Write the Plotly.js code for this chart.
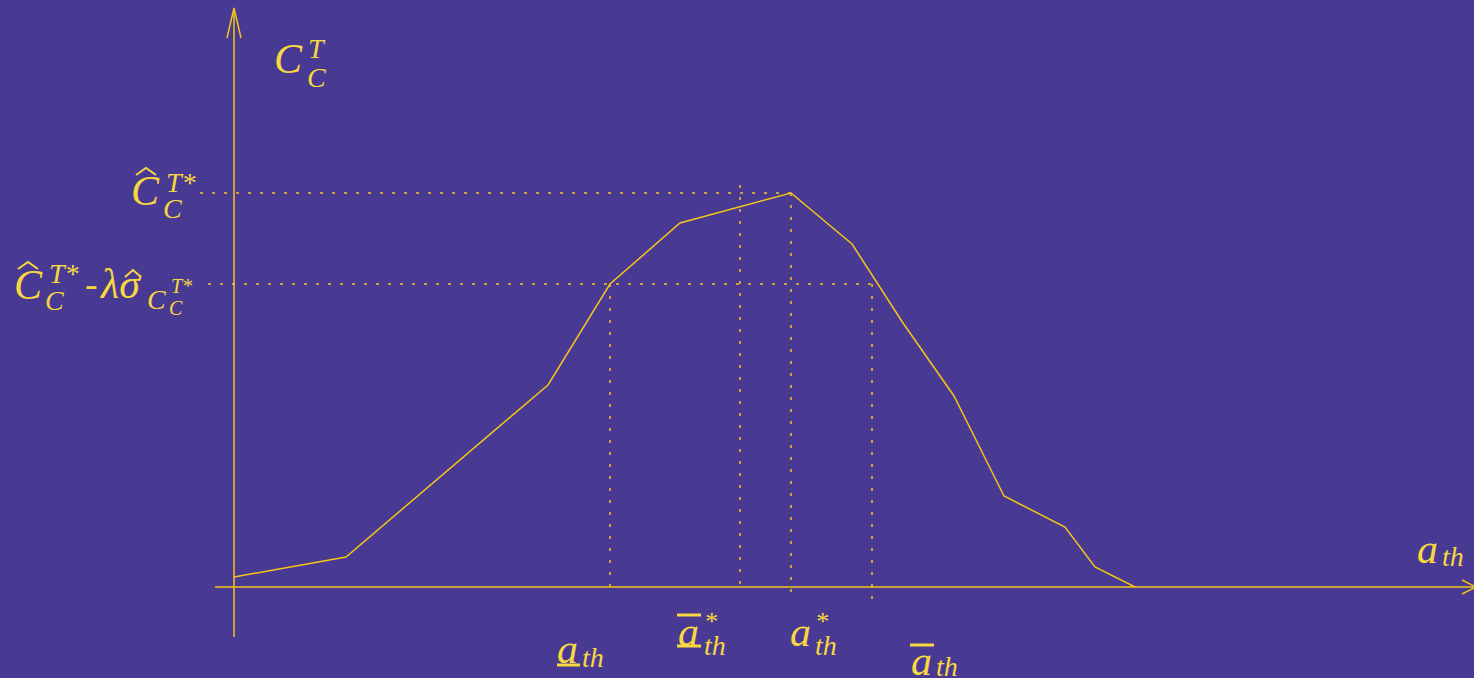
<!DOCTYPE html>
<html>
<head>
<meta charset="utf-8">
<script src="https://cdn.plot.ly/plotly-3.0.1.min.js"></script>
<style>html,body{margin:0;padding:0;background:#483A92;}#chart{width:1474px;height:678px;}</style>
</head>
<body>
<div id="chart"></div>
<script>
// ---- data (conceptual units) ----
const aTh = [0, 1.12, 3.14, 3.76, 4.46, 5.57, 6.18, 6.69, 7.20, 7.70, 8.31, 8.61, 9.01];
const cct = [0.10, 0.30, 2.02, 3.03, 3.64, 3.94, 3.43, 2.64, 1.91, 0.91, 0.60, 0.20, 0.00];
const cMax = 3.94;      // \hat C_C^{T*}
const cLow = 3.03;      // \hat C_C^{T*} - lambda sigma
const aLow = 3.76;      // underline a_th
const aBarStar = 5.06;  // overline a*_th
const aStar = 5.57;     // a*_th
const aHigh = 6.38;     // overline a_th

const W = 1474, H = 678;
const LINE = '#F5C518';
const TXT = '#F8D740';
const BG = '#483A92';
const FONT = 'Liberation Serif, DejaVu Serif, serif';
const DOT = '3px,9px';

const traces = [];
function dotted(x, y) {
  traces.push({x: x, y: y, mode: 'lines', hoverinfo: 'skip', showlegend: false,
    line: {color: LINE, width: 1.5, dash: DOT}});
}
dotted([-0.34, aStar], [cMax, cMax]);
dotted([-0.26, aHigh], [cLow, cLow]);
dotted([aLow, aLow], [cLow, -0.08]);
dotted([aBarStar, aBarStar], [4.02, -0.05]);
dotted([aStar, aStar], [cMax, -0.13]);
dotted([aHigh, aHigh], [cLow, -0.20]);
traces.push({x: aTh, y: cct, mode: 'lines', hoverinfo: 'skip', showlegend: false,
  line: {color: LINE, width: 1.5}});

// ---- annotations (pixel positions) ----
const anns = [];
function t(text, x, y, size, italic) {
  anns.push({text: italic === false ? text : '<i>' + text + '</i>', x: x / W, y: 1 - y / H,
    xref: 'paper', yref: 'paper', showarrow: false, xanchor: 'left', yanchor: 'middle',
    font: {family: FONT, size: size, color: TXT}});
}
const shapes = [];
function bar(x0, x1, y) {
  shapes.push({type: 'line', xref: 'paper', yref: 'paper', x0: x0 / W, x1: x1 / W,
    y0: 1 - y / H, y1: 1 - y / H, line: {color: TXT, width: 3}});
}
function hat(x0, x1, yTop, yBot) {
  const xm = (x0 + x1) / 2;
  const p = 'M ' + (x0 / W) + ' ' + (1 - yBot / H) + ' L ' + (xm / W) + ' ' + (1 - yTop / H) +
            ' L ' + (x1 / W) + ' ' + (1 - yBot / H);
  shapes.push({type: 'path', xref: 'paper', yref: 'paper', path: p, line: {color: TXT, width: 2}});
}
// axes
shapes.push({type: 'line', x0: -0.19, x1: 12.42, y0: 0, y1: 0, line: {color: LINE, width: 1.5}});
shapes.push({type: 'line', x0: 0, x1: 0, y0: -0.50, y1: 5.78, line: {color: LINE, width: 1.5}});
shapes.push({type: 'path', path: 'M -0.07 5.49 L 0 5.79 L 0.07 5.49', line: {color: LINE, width: 1.5}});
shapes.push({type: 'path', path: 'M 12.28 0.07 L 12.42 0 L 12.28 -0.07', line: {color: LINE, width: 1.5}});

// C_C^T
t('C', 272, 59, 42); t('T', 306, 49, 28); t('C', 305, 77, 28);
// hat C_C^T*
t('C', 129, 191, 42); hat(136, 156, 168, 175); t('T*', 164, 182, 28); t('C', 161, 208, 28);
// hat C_C^T* - lambda sigma
t('C', 12, 285, 42); hat(18, 38, 262, 269); t('T*', 47, 273, 28); t('C', 43, 300, 28);
t('-', 83, 284, 38, false); t('λσ', 97, 284, 42); hat(125, 141, 270, 277);
t('C', 145, 299, 28); t('T*', 169, 286, 20); t('C', 167, 308, 20);
// bottom labels
t('a', 555, 649, 42); t('th', 580, 657, 28); bar(557, 580, 665);
t('a', 676, 632, 42); t('*', 702, 621, 26); t('th', 702, 645, 28); bar(677, 701, 615); bar(677, 701, 646);
t('a', 788, 632, 42); t('*', 813, 621, 26); t('th', 813, 645, 28);
t('a', 909, 661, 42); t('th', 934, 666, 28); bar(910, 934, 645);
t('a', 1415, 549, 42); t('th', 1440, 556, 28);

const layout = {
  width: W, height: H, margin: {l: 0, r: 0, t: 0, b: 0},
  paper_bgcolor: BG, plot_bgcolor: BG,
  xaxis: {range: [-2.34, 12.40], visible: false, fixedrange: true},
  yaxis: {range: [-0.91, 5.87], visible: false, fixedrange: true},
  showlegend: false, shapes: shapes, annotations: anns
};
Plotly.newPlot('chart', traces, layout, {displayModeBar: false, staticPlot: true});
</script>
</body>
</html>
